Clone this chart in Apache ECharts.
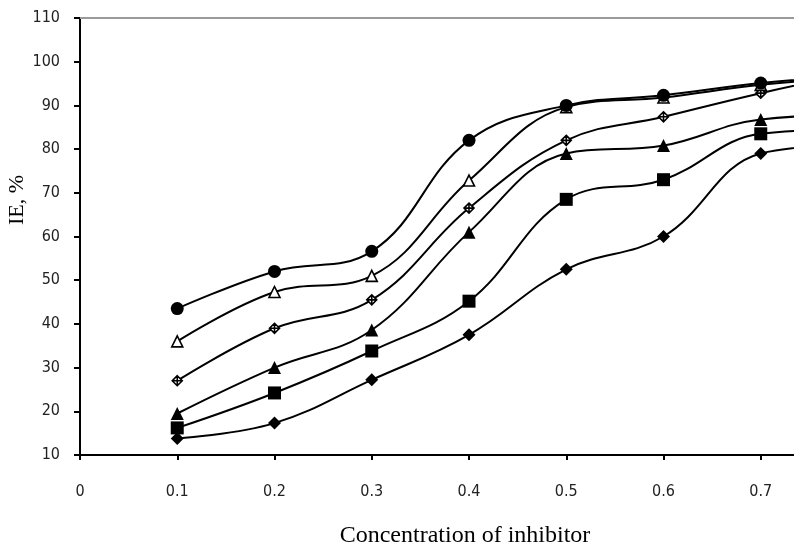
<!DOCTYPE html>
<html>
<head>
<meta charset="utf-8">
<script src="https://cdn.jsdelivr.net/npm/echarts@6/dist/echarts.min.js"></script>
<style>
html,body{margin:0;padding:0;background:#fff;overflow:hidden;}
#chart{width:794px;height:548px;}
</style>
</head>
<body>
<div id="chart"></div>
<script>
// Data
var concentrations = [0.1, 0.2, 0.3, 0.4, 0.5, 0.6, 0.7, 0.8];
var circleSeries   = [43.5, 52.0, 56.6, 82.0, 90.0, 92.3, 95.1, 97.0];
var openTriSeries  = [36.0, 47.3, 51.0, 72.8, 89.6, 91.8, 94.7, 96.5];
var starSeries     = [27.0, 39.0, 45.5, 66.5, 82.0, 87.4, 92.8, 97.5];
var filledTriSeries= [19.5, 30.0, 38.6, 61.0, 79.0, 80.8, 86.8, 87.8];
var squareSeries   = [16.2, 24.2, 33.8, 45.2, 68.5, 73.0, 83.5, 84.5];
var diamondSeries  = [13.8, 17.3, 27.2, 37.5, 52.5, 60.0, 79.0, 81.0];
var xTicks = [0, 0.1, 0.2, 0.3, 0.4, 0.5, 0.6, 0.7, 0.8];
var yMin = 10, yMax = 110, yStep = 10;
var xTitle = 'Concentration of inhibitor';
var yTitle = 'IE, %';

function pairs(vals){ return concentrations.map(function(c,i){ return [c, vals[i]]; }); }

var chart = echarts.init(document.getElementById('chart'), null, {renderer:'canvas', width:794, height:548});
var labelFont = {fontFamily:'"DejaVu Sans Condensed", "Liberation Sans", sans-serif', fontSize:16, color:'#222'};

function mk(name, data, symbol, size, fill){
  return {
    name:name, type:'line', data:pairs(data), smooth:0.4,
    symbol:symbol, symbolSize:size, showSymbol:true,
    lineStyle:{color:'#000', width:2},
    itemStyle:{color:fill, borderColor:'#000', borderWidth: fill==='#fff'?1.6:0},
    emphasis:{disabled:true}, z:3
  };
}

var option = {
  animation:false,
  backgroundColor:'#fff',
  grid:{left:80, top:18, height:437, width:778, containLabel:false, outerBoundsMode:'none'},
  xAxis:[{
    type:'value', min:0, max:0.8, interval:0.1,
    axisLine:{show:true, onZero:false, lineStyle:{color:'#000', width:2}},
    axisTick:{show:true, length:5, lineStyle:{color:'#000', width:2}},
    axisLabel:Object.assign({margin:29, formatter:function(v){ var r=Math.round(v*10)/10; return xTicks.indexOf(r)>=0 ? String(r) : ''; }}, labelFont),
    splitLine:{show:false}
  },{
    type:'value', position:'top', min:0, max:0.8,
    axisLine:{show:true, lineStyle:{color:'#9a9a9a', width:2}},
    axisTick:{show:false}, axisLabel:{show:false}, splitLine:{show:false}
  }],
  yAxis:{
    type:'value', min:yMin, max:yMax, interval:yStep,
    axisLine:{show:true, onZero:false, lineStyle:{color:'#000', width:2}},
    axisTick:{show:true, length:6, lineStyle:{color:'#000', width:2}},
    axisLabel:Object.assign({margin:20}, labelFont),
    splitLine:{show:false}
  },
  graphic:[
    {type:'text', x:465, y:536, style:{text:xTitle, font:'24px "Liberation Serif"', fill:'#000', textAlign:'center', textVerticalAlign:'middle'}},
    {type:'text', x:17, y:200, rotation:Math.PI/2, style:{text:yTitle, font:'22px "Liberation Serif"', fill:'#000', textAlign:'center', textVerticalAlign:'middle'}}
  ],
  series:[
    mk('diamond', diamondSeries, 'diamond', 13, '#000'),
    mk('square', squareSeries, 'rect', 13, '#000'),
    mk('filledTri', filledTriSeries, 'triangle', 13, '#000'),
    mk('star', starSeries, 'path://M5,0 L10,6 L5,12 L0,6 Z M5,0 L5,12 M0,6 L10,6', 10, '#fff'),
    mk('openTri', openTriSeries, 'triangle', 11, '#fff'),
    mk('circle', circleSeries, 'circle', 13, '#000')
  ]
};
chart.setOption(option);
</script>
</body>
</html>
